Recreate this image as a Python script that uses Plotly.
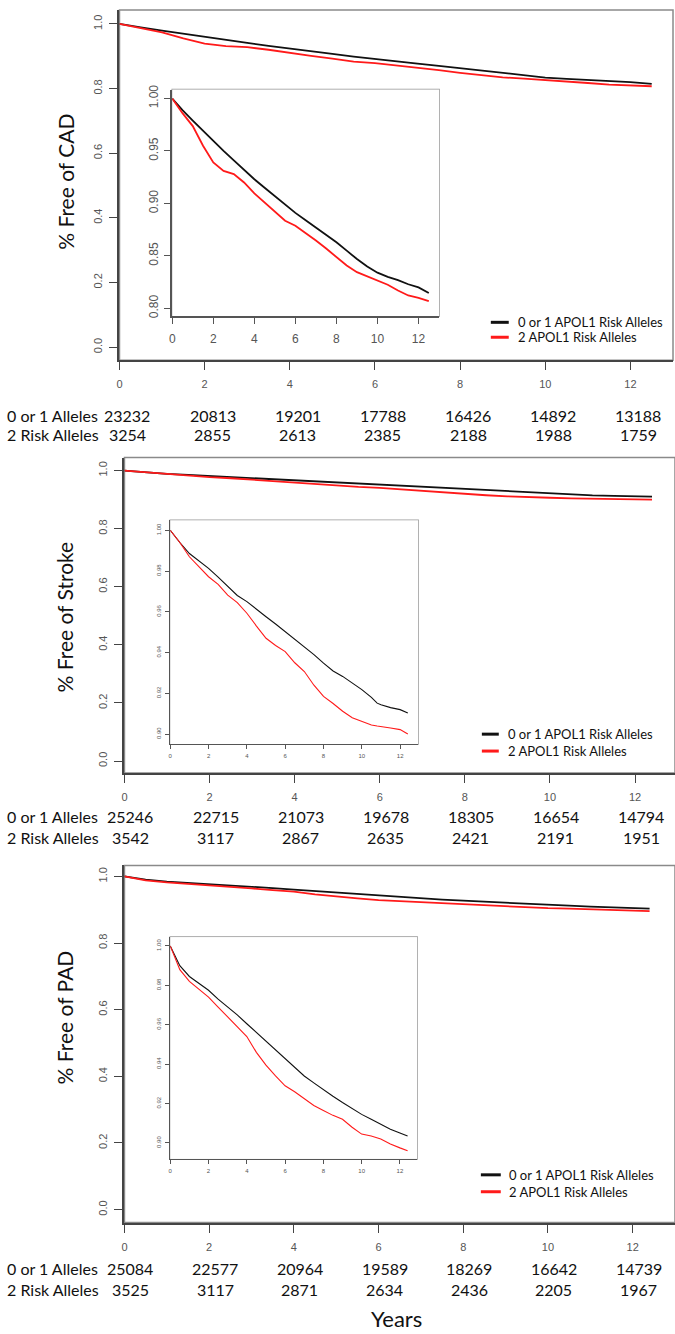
import plotly.graph_objects as go

W, H = 675, 1334

# ---------------- data ----------------
years_cad = [0, 0.25, 0.5, 1, 1.5, 2, 2.5, 3, 3.5, 4, 4.5, 5, 5.5, 6, 6.5, 7, 7.5, 8, 8.5, 9, 9.5, 10, 10.5, 11, 11.5, 12, 12.5]
cad_01 = [1.000, 0.994, 0.989, 0.979, 0.969, 0.959, 0.950, 0.941, 0.932, 0.923, 0.915, 0.907, 0.899, 0.891, 0.884, 0.877, 0.870, 0.863, 0.855, 0.847, 0.840, 0.834, 0.830, 0.827, 0.823, 0.820, 0.8146]
cad_2 = [1.000, 0.993, 0.986, 0.9737, 0.955, 0.939, 0.931, 0.928, 0.920, 0.9095, 0.901, 0.8924, 0.8835, 0.8788, 0.872, 0.8646, 0.857, 0.8487, 0.8408, 0.8345, 0.8304, 0.8266, 0.8225, 0.8171, 0.8123, 0.810, 0.807]

years_stroke = [0, 0.5, 1, 1.5, 2, 2.5, 3, 3.5, 4, 4.5, 5, 5.5, 6, 6.5, 7, 7.5, 8, 8.5, 9, 9.5, 10, 10.5, 10.8, 11, 11.5, 12, 12.4]
stroke_01 = [1.000, 0.994, 0.9886, 0.985, 0.9813, 0.977, 0.9723, 0.968, 0.965, 0.9615, 0.9576, 0.954, 0.9503, 0.9467, 0.943, 0.939, 0.9348, 0.931, 0.9283, 0.925, 0.9218, 0.918, 0.9152, 0.9144, 0.913, 0.912, 0.9104]
stroke_2 = [1.000, 0.994, 0.987, 0.982, 0.9772, 0.9735, 0.9682, 0.9645, 0.9593, 0.953, 0.947, 0.9435, 0.9405, 0.935, 0.9307, 0.924, 0.9185, 0.915, 0.9112, 0.908, 0.9063, 0.9045, 0.904, 0.9038, 0.903, 0.9022, 0.9001]

years_pad = [0, 0.5, 1, 1.5, 2, 2.5, 3, 3.5, 4, 4.5, 5, 5.5, 6, 6.5, 7, 7.5, 8, 8.5, 9, 9.5, 10, 10.5, 11, 11.5, 12, 12.4]
pad_01 = [1.000, 0.990, 0.9845, 0.981, 0.9775, 0.973, 0.969, 0.965, 0.9605, 0.956, 0.952, 0.9475, 0.943, 0.9385, 0.934, 0.9305, 0.927, 0.9237, 0.9205, 0.9175, 0.9145, 0.912, 0.9095, 0.907, 0.905, 0.9035]
pad_2 = [1.000, 0.988, 0.982, 0.978, 0.974, 0.969, 0.964, 0.959, 0.954, 0.946, 0.9395, 0.934, 0.929, 0.926, 0.9225, 0.919, 0.9165, 0.914, 0.912, 0.908, 0.9045, 0.9035, 0.902, 0.8995, 0.8975, 0.896]

risk_years = [0, 2, 4, 6, 8, 10, 12]
cad_n01 = [23232, 20813, 19201, 17788, 16426, 14892, 13188]
cad_n2 = [3254, 2855, 2613, 2385, 2188, 1988, 1759]
stroke_n01 = [25246, 22715, 21073, 19678, 18305, 16654, 14794]
stroke_n2 = [3542, 3117, 2867, 2635, 2421, 2191, 1951]
pad_n01 = [25084, 22577, 20964, 19589, 18269, 16642, 14739]
pad_n2 = [3525, 3117, 2871, 2634, 2436, 2205, 1967]

row_labels = ["0 or 1 Alleles", "2 Risk Alleles"]
legend_labels = ["0 or 1 APOL1 Risk Alleles", "2 APOL1 Risk Alleles"]
y_titles = ["% Free of CAD", "% Free of Stroke", "% Free of PAD"]
x_title = "Years"

main_yticks = [0, 0.2, 0.4, 0.6, 0.8, 1.0]
xticks = [0, 2, 4, 6, 8, 10, 12]
inset1_yticks = [0.80, 0.85, 0.90, 0.95, 1.00]
inset23_yticks = [0.90, 0.92, 0.94, 0.96, 0.98, 1.00]

# ---------------- layout helpers ----------------
def px(x):
    return x / W

def py(y):
    return 1 - y / H

BLACK = "#111111"
RED = "#ff1a1a"
TICKFONT = "Liberation Sans"
TEXTFONT = "Lato"

panels = [
    dict(years=years_cad, s01=cad_01, s2=cad_2, n01=cad_n01, n2=cad_n2, title=y_titles[0],
         main=dict(L=117, R=673, T=5, B=357, xr=[0, 13], yr=[-0.04, 1.043]),
         inset=dict(L=170, R=438, T=85, B=313, xr=[0, 13], yr=[0.7924, 1.0085],
                    yt=inset1_yticks, fmt="{:.2f}", fs=12, lw=1.8),
         rows=(413, 432), leg=(490, 508, 515, 319, 334), title_y=178, num_shift=4),
    dict(years=years_stroke, s01=stroke_01, s2=stroke_2, n01=stroke_n01, n2=stroke_n2, title=y_titles[1],
         main=dict(L=122, R=675, T=455, B=772, xr=[0, 12.94], yr=[-0.041, 1.0445]),
         inset=dict(L=168, R=417, T=518, B=743, xr=[0, 12.94], yr=[0.8951, 1.0049],
                    yt=inset23_yticks, fmt="{:.2f}", fs=6, lw=1.1),
         rows=(816, 837), leg=(481, 498, 505, 733, 750), title_y=615, num_shift=2),
    dict(years=years_pad, s01=pad_01, s2=pad_2, n01=pad_n01, n2=pad_n2, title=y_titles[2],
         main=dict(L=122, R=675, T=865, B=1224, xr=[0, 13], yr=[-0.0388, 1.0328]),
         inset=dict(L=168, R=416, T=937, B=1160, xr=[0, 12.9], yr=[0.8919, 1.0045],
                    yt=inset23_yticks, fmt="{:.2f}", fs=6, lw=1.1),
         rows=(1270, 1291), leg=(480, 500, 506, 1176, 1193), title_y=1018, num_shift=2),
]

fig = go.Figure()
layout = dict(width=W, height=H, margin=dict(l=0, r=0, t=0, b=0),
              paper_bgcolor="white", plot_bgcolor="white", showlegend=False)
shapes = []
annotations = []

ax = 0
for p in panels:
    for kind in ("main", "inset"):
        ax += 1
        g = p[kind]
        xa = "xaxis" if ax == 1 else f"xaxis{ax}"
        ya = "yaxis" if ax == 1 else f"yaxis{ax}"
        xr_ = "x" if ax == 1 else f"x{ax}"
        yr_ = "y" if ax == 1 else f"y{ax}"
        if kind == "main":
            yt = main_yticks
            ytext = [f"{v:.1f}" for v in yt]
            fs = 11
            lw = 1.8
            tl = 8
            alw = 2
            border = "#8a8a8a"
            axcol = "#444444"
        else:
            yt = g["yt"]
            ytext = [g["fmt"].format(v) for v in yt]
            fs = g["fs"]
            lw = g["lw"]
            tl = 6 if fs > 8 else 4
            alw = 1.5 if fs > 8 else 1
            border = "#9a9a9a"
            axcol = "#555555"
        layout[xa] = dict(domain=[px(g["L"]), px(g["R"])], range=g["xr"], anchor=yr_,
                          tickvals=xticks, ticktext=[str(v) for v in xticks],
                          ticks="outside", ticklen=tl, tickcolor=axcol, tickwidth=1,
                          showline=True, linecolor=axcol, linewidth=alw,
                          showgrid=False, zeroline=False,
                          ticklabelstandoff=(5 if kind == "main" else (4 if fs > 8 else 2)),
                          tickfont=dict(family=TICKFONT, size=fs, color="#555555"))
        layout[ya] = dict(domain=[py(g["B"]), py(g["T"])], range=g["yr"], anchor=xr_,
                          tickvals=yt, ticktext=ytext, tickangle=-90,
                          ticks="outside", ticklen=tl, tickcolor=axcol, tickwidth=1,
                          showline=True, linecolor=axcol, linewidth=alw,
                          showgrid=False, zeroline=False,
                          ticklabelstandoff=(3 if kind == "main" else 2),
                          tickfont=dict(family=TICKFONT, size=fs, color="#555555"))
        # frame
        shapes.append(dict(type="rect", xref=f"{xr_} domain", yref=f"{yr_} domain",
                           x0=0, x1=1, y0=0, y1=1, line=dict(color=border, width=1.5),
                           fillcolor="rgba(0,0,0,0)", layer="below"))
        fig.add_trace(go.Scatter(x=p["years"], y=p["s01"], mode="lines", xaxis=xr_, yaxis=yr_,
                                 line=dict(color=BLACK, width=lw), hoverinfo="skip"))
        fig.add_trace(go.Scatter(x=p["years"], y=p["s2"], mode="lines", xaxis=xr_, yaxis=yr_,
                                 line=dict(color=RED, width=lw), hoverinfo="skip"))
        if kind == "main":
            main_xref = xr_

    # y title
    annotations.append(dict(text=p["title"], x=px(62), y=py(p["title_y"]), xref="paper", yref="paper",
                            showarrow=False, textangle=-90, xanchor="center", yanchor="middle",
                            font=dict(family=TEXTFONT, size=21, color="#111111")))
    # risk table
    r1, r2 = p["rows"]
    for lab, ry in zip(row_labels, (r1, r2)):
        annotations.append(dict(text=lab, x=px(2), y=py(ry), xref="paper", yref="paper",
                                showarrow=False, xanchor="left", yanchor="middle",
                                font=dict(family=TEXTFONT, size=16, color="#111111")))
    for t, a, b in zip(risk_years, p["n01"], p["n2"]):
        for val, ry in ((a, r1), (b, r2)):
            annotations.append(dict(text=str(val), x=t, y=py(ry), xref=main_xref, yref="paper",
                                    xshift=p["num_shift"] + 4, showarrow=False,
                                    xanchor="center", yanchor="middle",
                                    font=dict(family=TEXTFONT, size=16, color="#111111")))
    # legend
    lx0, lx1, tx, ly1, ly2 = p["leg"]
    for col, lab, ly in ((BLACK, legend_labels[0], ly1), (RED, legend_labels[1], ly2)):
        shapes.append(dict(type="line", xref="paper", yref="paper", x0=px(lx0), x1=px(lx1),
                           y0=py(ly), y1=py(ly), line=dict(color=col, width=3)))
        annotations.append(dict(text=lab, x=px(tx), y=py(ly), xref="paper", yref="paper",
                                showarrow=False, xanchor="left", yanchor="middle",
                                font=dict(family=TEXTFONT, size=13, color="#111111")))

annotations.append(dict(text=x_title, x=px(395), y=py(1320), xref="paper", yref="paper",
                        showarrow=False, xanchor="center", yanchor="middle",
                        font=dict(family=TEXTFONT, size=22, color="#111111")))

layout["shapes"] = shapes
layout["annotations"] = annotations
fig.update_layout(**layout)
fig.write_html("out.html")
